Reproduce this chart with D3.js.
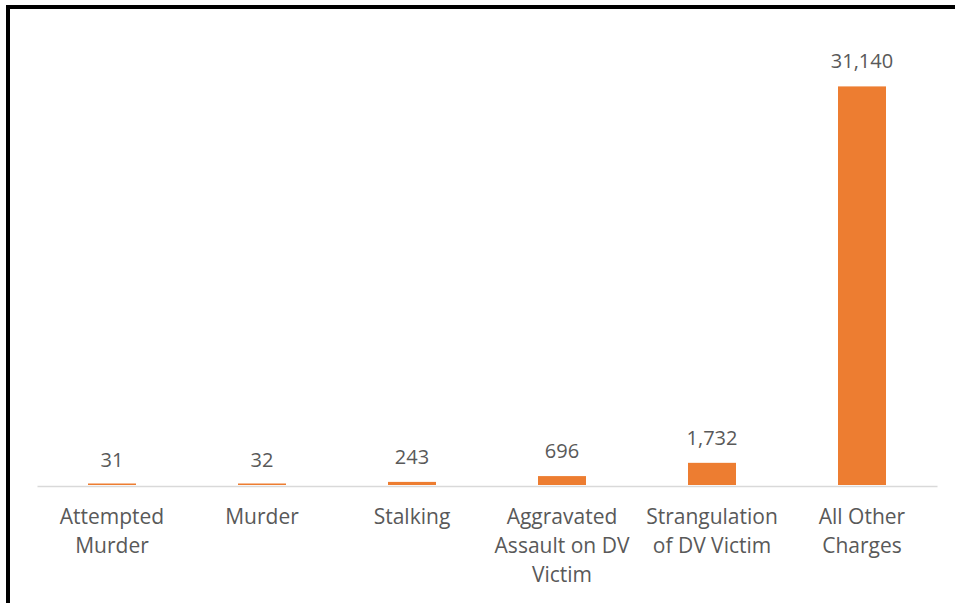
<!DOCTYPE html>
<html>
<head>
<meta charset="utf-8">
<script src="https://cdn.jsdelivr.net/npm/d3@7"></script>
<style>
  html, body { margin: 0; padding: 0; background: #fff; }
  svg { display: block; }
  text { font-family: "Open Sans", "Noto Sans", sans-serif; fill: #595959; }
</style>
</head>
<body>
<svg id="chart" width="955" height="603"></svg>
<script>
const categories = ["Attempted Murder", "Murder", "Stalking", "Aggravated Assault on DV Victim", "Strangulation of DV Victim", "All Other Charges"];
const values = [31, 32, 243, 696, 1732, 31140];
const yDomain = [0, 35000];

const W = 955, H = 603;
const svg = d3.select("#chart");

const x = d3.scaleBand().domain(categories).range([37, 937]).paddingInner(0.68).paddingOuter(0.34);
const y = d3.scaleLinear().domain(yDomain).range([485, 37]);

// Border (left and top)
svg.append("path")
  .attr("d", `M8,${H} L8,7 L${W},7`)
  .attr("fill", "none")
  .attr("stroke", "#000")
  .attr("stroke-width", 4);

// Axis (drawn just below the bar base)
const axis = d3.axisBottom(x).tickSize(0).tickSizeOuter(0).tickFormat("");
const gAxis = svg.append("g").attr("transform", `translate(0,${y(0) + 1})`).call(axis);
gAxis.select(".domain").attr("stroke", "#D9D9D9").attr("stroke-width", 1.5);

// Bars (minimum rendered height so tiny values stay visible)
svg.selectAll("rect.bar")
  .data(values)
  .enter().append("rect")
  .attr("class", "bar")
  .attr("x", (d, i) => x(categories[i]))
  .attr("width", x.bandwidth())
  .attr("y", d => Math.min(y(d), y(0) - 1.5))
  .attr("height", d => Math.max(y(0) - y(d), 1.5))
  .attr("fill", "#ED7D31");

// Value labels
const fmt = d3.format(",");
svg.selectAll("text.val")
  .data(values)
  .enter().append("text")
  .attr("class", "val")
  .attr("x", (d, i) => x(categories[i]) + x.bandwidth() / 2)
  .attr("y", d => y(d) - 18)
  .attr("text-anchor", "middle")
  .attr("font-size", 20)
  .text(d => fmt(d));

// Category labels with wrapping
const maxW = 150;
categories.forEach(cat => {
  const cx = x(cat) + x.bandwidth() / 2;
  const t = svg.append("text")
    .attr("text-anchor", "middle")
    .attr("font-size", 21)
    .attr("x", cx)
    .attr("y", 524);
  const words = cat.split(" ");
  let line = [];
  let lineNo = 0;
  let tspan = t.append("tspan").attr("x", cx).attr("y", 524);
  words.forEach(w => {
    line.push(w);
    tspan.text(line.join(" "));
    if (tspan.node().getComputedTextLength() > maxW && line.length > 1) {
      line.pop();
      tspan.text(line.join(" "));
      line = [w];
      lineNo++;
      tspan = t.append("tspan").attr("x", cx).attr("y", 524 + lineNo * 29).text(w);
    }
  });
});
</script>
</body>
</html>
